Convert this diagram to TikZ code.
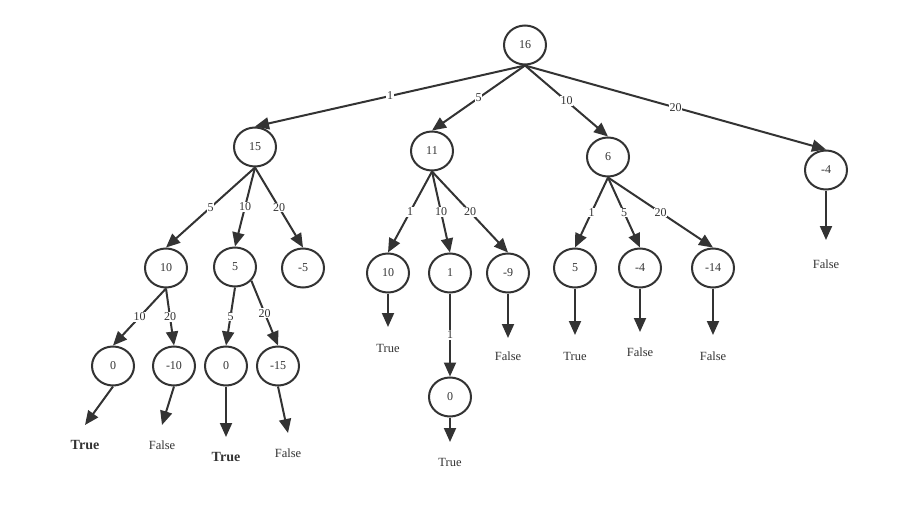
\documentclass[tikz,border=0pt]{standalone}
\usepackage{fontspec}
\setmainfont{Liberation Serif}
\usetikzlibrary{arrows.meta,shapes.geometric}
\definecolor{ink}{HTML}{333333}
\tikzset{
  every node/.style={font=\fontsize{12}{14}\selectfont,text=ink},
  st/.style={ellipse,draw=ink,line width=2pt,minimum width=42pt,minimum height=39pt,inner sep=0pt},
  ar/.style={-{Triangle[length=14pt,width=12pt]},draw=ink,line width=2pt},
  wt/.style={fill=white,inner sep=0.8pt},
  res/.style={inner sep=1pt,font=\fontsize{12.5}{14}\selectfont},
  win/.style={inner sep=1pt,font=\fontsize{14}{16}\selectfont\bfseries},
}
\begin{document}
\begin{tikzpicture}[x=1pt,y=-1pt]
\useasboundingbox (0,0) rectangle (911,506);
% states
\node[st] (r) at (525,45) {16};
\node[st] (a) at (255,147) {15};
\node[st] (b) at (432,151) {11};
\node[st] (c) at (608,157) {6};
\node[st] (d) at (826,170) {-4};
\node[st] (aa) at (166,268) {10};
\node[st] (ab) at (235,267) {5};
\node[st] (ac) at (303,268) {-5};
\node[st] (ba) at (388,273) {10};
\node[st] (bb) at (450,273) {1};
\node[st] (bc) at (508,273) {-9};
\node[st] (ca) at (575,268) {5};
\node[st] (cb) at (640,268) {-4};
\node[st] (cc) at (713,268) {-14};
\node[st] (aaa) at (113,366) {0};
\node[st] (aab) at (174,366) {-10};
\node[st] (aba) at (226,366) {0};
\node[st] (abb) at (278,366) {-15};
\node[st] (bba) at (450,397) {0};

% outcome ends
\coordinate (aaa-e) at (85,425);
\coordinate (aab-e) at (162,425);
\coordinate (aba-e) at (226,437);
\coordinate (abb-e) at (288,433);
\coordinate (ba-e) at (388,327);
\coordinate (bc-e) at (508,338);
\coordinate (bba-e) at (450,442);
\coordinate (ca-e) at (575,335);
\coordinate (cb-e) at (640,332);
\coordinate (cc-e) at (713,335);
\coordinate (d-e) at (826,240);

% outcomes
\node[win] (aaa-l) at (85,445) {True};
\node[res] (aab-l) at (162,445) {False};
\node[win] (aba-l) at (226,457) {True};
\node[res] (abb-l) at (288,453) {False};
\node[res] (ba-l) at (388,348) {True};
\node[res] (bc-l) at (508,356) {False};
\node[res] (bba-l) at (450,462) {True};
\node[res] (ca-l) at (575,356) {True};
\node[res] (cb-l) at (640,352) {False};
\node[res] (cc-l) at (713,356) {False};
\node[res] (d-l) at (826,264) {False};

% moves
\draw[ar] (r.south) -- node[wt] {1} (a.north);
\draw[ar] (r.south) -- node[wt] {5} (b.north);
\draw[ar] (r.south) -- node[wt] {10} (c.north);
\draw[ar] (r.south) -- node[wt] {20} (d.north);
\draw[ar] (a.south) -- node[wt] {5} (aa.north);
\draw[ar] (a.south) -- node[wt] {10} (ab.north);
\draw[ar] (a.south) -- node[wt] {20} (ac.north);
\draw[ar] (b.south) -- node[wt] {1} (ba.north);
\draw[ar] (b.south) -- node[wt] {10} (bb.north);
\draw[ar] (b.south) -- node[wt] {20} (bc.north);
\draw[ar] (c.south) -- node[wt] {1} (ca.north);
\draw[ar] (c.south) -- node[wt] {5} (cb.north);
\draw[ar] (c.south) -- node[wt] {20} (cc.north);
\draw[ar] (aa.south) -- node[wt] {10} (aaa.north);
\draw[ar] (aa.south) -- node[wt] {20} (aab.north);
\draw[ar] (ab.south) -- node[wt] {5} (aba.north);
\draw[ar] (ab.-40) -- node[wt] {20} (abb.north);
\draw[ar] (bb.south) -- node[wt] {1} (bba.north);

\draw[ar] (aaa.south) -- (aaa-e);
\draw[ar] (aab.south) -- (aab-e);
\draw[ar] (aba.south) -- (aba-e);
\draw[ar] (abb.south) -- (abb-e);
\draw[ar] (ba.south) -- (ba-e);
\draw[ar] (bc.south) -- (bc-e);
\draw[ar] (bba.south) -- (bba-e);
\draw[ar] (ca.south) -- (ca-e);
\draw[ar] (cb.south) -- (cb-e);
\draw[ar] (cc.south) -- (cc-e);
\draw[ar] (d.south) -- (d-e);
\end{tikzpicture}
\end{document}
